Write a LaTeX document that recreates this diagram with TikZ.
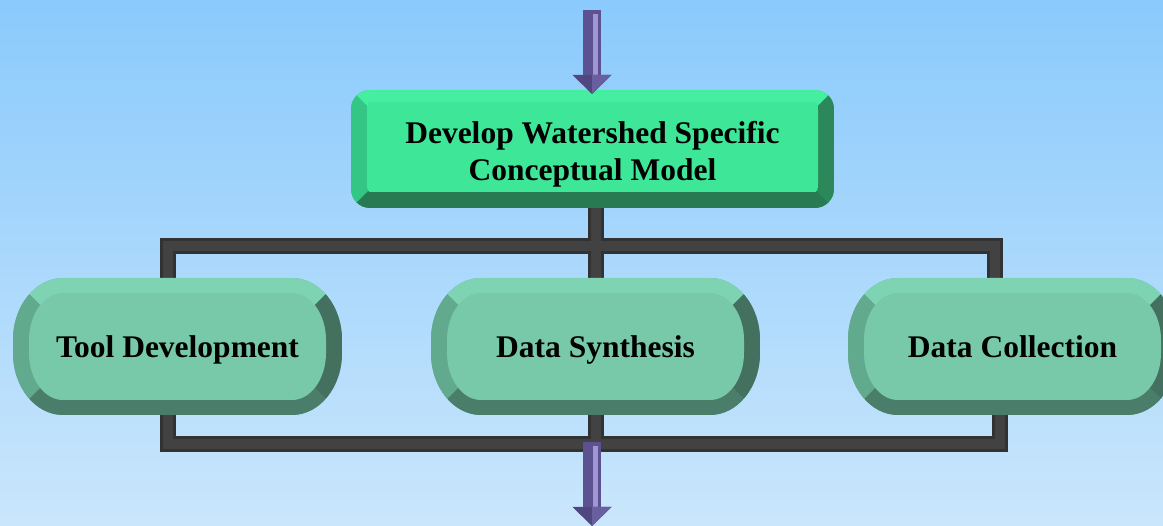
\documentclass[tikz,border=0pt]{standalone}
\usepackage{fontspec}
\setmainfont{Liberation Serif}
\usetikzlibrary{calc}
\definecolor{bgtop}{RGB}{138,202,252}
\definecolor{bgbot}{RGB}{202,230,252}
\definecolor{tface}{RGB}{62,230,152}
\definecolor{ttop}{RGB}{70,238,162}
\definecolor{tleft}{RGB}{52,198,132}
\definecolor{tbot}{RGB}{40,122,82}
\definecolor{tright}{RGB}{44,136,90}
\definecolor{pface}{RGB}{120,201,170}
\definecolor{ptop}{RGB}{126,212,178}
\definecolor{pleft}{RGB}{98,170,142}
\definecolor{pbot}{RGB}{74,126,106}
\definecolor{pright}{RGB}{68,112,96}
\definecolor{pipedark}{RGB}{50,50,50}
\definecolor{pipehi}{RGB}{66,66,66}
\definecolor{arrdark}{RGB}{92,82,145}
\definecolor{arrlight}{RGB}{160,150,212}
\definecolor{arrhead}{RGB}{80,70,128}
\definecolor{arrheadl}{RGB}{104,94,160}
\pgfdeclarelayer{bglayer}
\pgfdeclarelayer{pipelayer}
\pgfsetlayers{bglayer,pipelayer,main}
\tikzset{ellrect/.style n args={6}{insert path={({#1+#5},#4) -- ({#3-#5},#4)
   arc[start angle=90,end angle=0,x radius=#5,y radius=#6] -- (#3,{#2+#6})
   arc[start angle=0,end angle=-90,x radius=#5,y radius=#6] -- ({#1+#5},#2)
   arc[start angle=270,end angle=180,x radius=#5,y radius=#6] -- (#1,{#4-#6})
   arc[start angle=180,end angle=90,x radius=#5,y radius=#6] -- cycle}}}
\newcommand\bevelbox[9]{%
  \pgfmathsetmacro\bbh{(#4-#2)/2}%
  \pgfmathsetmacro\bbm{(#4+#2)/2}%
  \pgfmathsetmacro\bbrx{#5-#7}%
  \pgfmathsetmacro\bbry{#6-#8}%
  \pgfmathsetmacro\bbxa{#1+#7}%
  \pgfmathsetmacro\bbxb{#3-#7}%
  \pgfmathsetmacro\bbya{#2+#9}%
  \pgfmathsetmacro\bbyb{#4-#8}%
  \begin{scope}
    \clip[ellrect={#1}{#2}{#3}{#4}{#5}{#6}];
    \fill[bvleft] (#1,#2) rectangle (#3,#4);
    \fill[bvtop] (#1,#4) -- (#3,#4) -- ({#3-\bbh},\bbm) -- ({#1+\bbh},\bbm) -- cycle;
    \fill[bvbot] (#1,#2) -- (#3,#2) -- ({#3-\bbh},\bbm) -- ({#1+\bbh},\bbm) -- cycle;
    \fill[bvleft] (#1,#2) -- (#1,#4) -- ({#1+\bbh},\bbm) -- cycle;
    \fill[bvright] (#3,#2) -- (#3,#4) -- ({#3-\bbh},\bbm) -- cycle;
  \end{scope}
  \fill[bvface, ellrect={\bbxa}{\bbya}{\bbxb}{\bbyb}{\bbrx}{\bbry}];
}
\newcommand\purplearrow[2]{%
  \fill[arrdark] ($(#1)+(-9,0)$) rectangle ($(#2)+(9,19)$);
  \fill[arrlight] ($(#1)+(1,-4)$) rectangle ($(#2)+(6,19)$);
  \fill[arrhead] ($(#2)+(-19.5,19)$) -- ($(#2)+(19.5,19)$) -- (#2) -- cycle;
  \fill[arrheadl] ($(#2)+(0,19)$) -- ($(#2)+(19.5,19)$) -- (#2) -- cycle;
}
\begin{document}
\begin{tikzpicture}[x=1pt,y=1pt,
  lbl/.style={font=\fontsize{31.5}{37}\selectfont\bfseries, text=black, inner sep=0pt},
  pillnode/.style={lbl, minimum width=329pt, minimum height=137pt, text height=23pt, text depth=0pt},
  pipe/.style={line width=16pt, draw=pipedark, line join=miter},
  pipeglint/.style={line width=10pt, draw=pipehi, line join=miter},
]
\useasboundingbox (0,0) rectangle (1163,526);
\clip (0,0) rectangle (1163,526);
\begin{pgfonlayer}{bglayer}
  \shade[top color=bgtop, bottom color=bgbot] (0,0) rectangle (1163,526);
\end{pgfonlayer}

% top box
\tikzset{bvtop/.style={fill=ttop}, bvleft/.style={fill=tleft}, bvbot/.style={fill=tbot},
  bvright/.style={fill=tright}, bvface/.style={fill=tface}}
\bevelbox{351}{318}{834}{436}{19}{19}{16}{12}{16}
\node[lbl, minimum width=483pt, minimum height=118pt] (topbox) at (592.5,377) {};
\node[lbl, align=center] (toptext) at (592.5,372) {Develop Watershed Specific\\Conceptual Model};

% pills
\tikzset{bvtop/.style={fill=ptop}, bvleft/.style={fill=pleft}, bvbot/.style={fill=pbot},
  bvright/.style={fill=pright}, bvface/.style={fill=pface}}
\bevelbox{13}{111}{342}{248}{50}{62}{16}{15}{15}
\node[pillnode] (tool) at (177.5,179.5) {Tool Development};
\bevelbox{431}{111}{760}{248}{50}{62}{16}{15}{15}
\node[pillnode] (syn) at (595.5,179.5) {Data Synthesis};
\bevelbox{848}{111}{1177}{248}{50}{62}{16}{15}{15}
\node[pillnode] (coll) at (1012.5,179.5) {Data Collection};

% pipes
\coordinate (barA) at (595.5,280);
\coordinate (barB) at (595.5,82);
\begin{pgfonlayer}{pipelayer}
  \foreach \s in {pipe,pipeglint}{
    \draw[\s] ([xshift=-10pt]tool.north) |- (barA) -| ([xshift=-17.5pt]coll.north);
    \draw[\s] ([xshift=-9.5pt]tool.south) |- (barB) -| ([xshift=-13pt]coll.south);
    \draw[\s] (syn.north |- topbox.south) -- (syn.north);
    \draw[\s] (syn.south) -- (barB);
  }
\end{pgfonlayer}

% arrows
\coordinate (inTop) at (592,516);
\coordinate (tipTop) at (592,432);
\coordinate (startBot) at (592,84);
\coordinate (outBot) at (592,0);
\purplearrow{inTop}{tipTop}
\purplearrow{startBot}{outBot}
\end{tikzpicture}
\end{document}
